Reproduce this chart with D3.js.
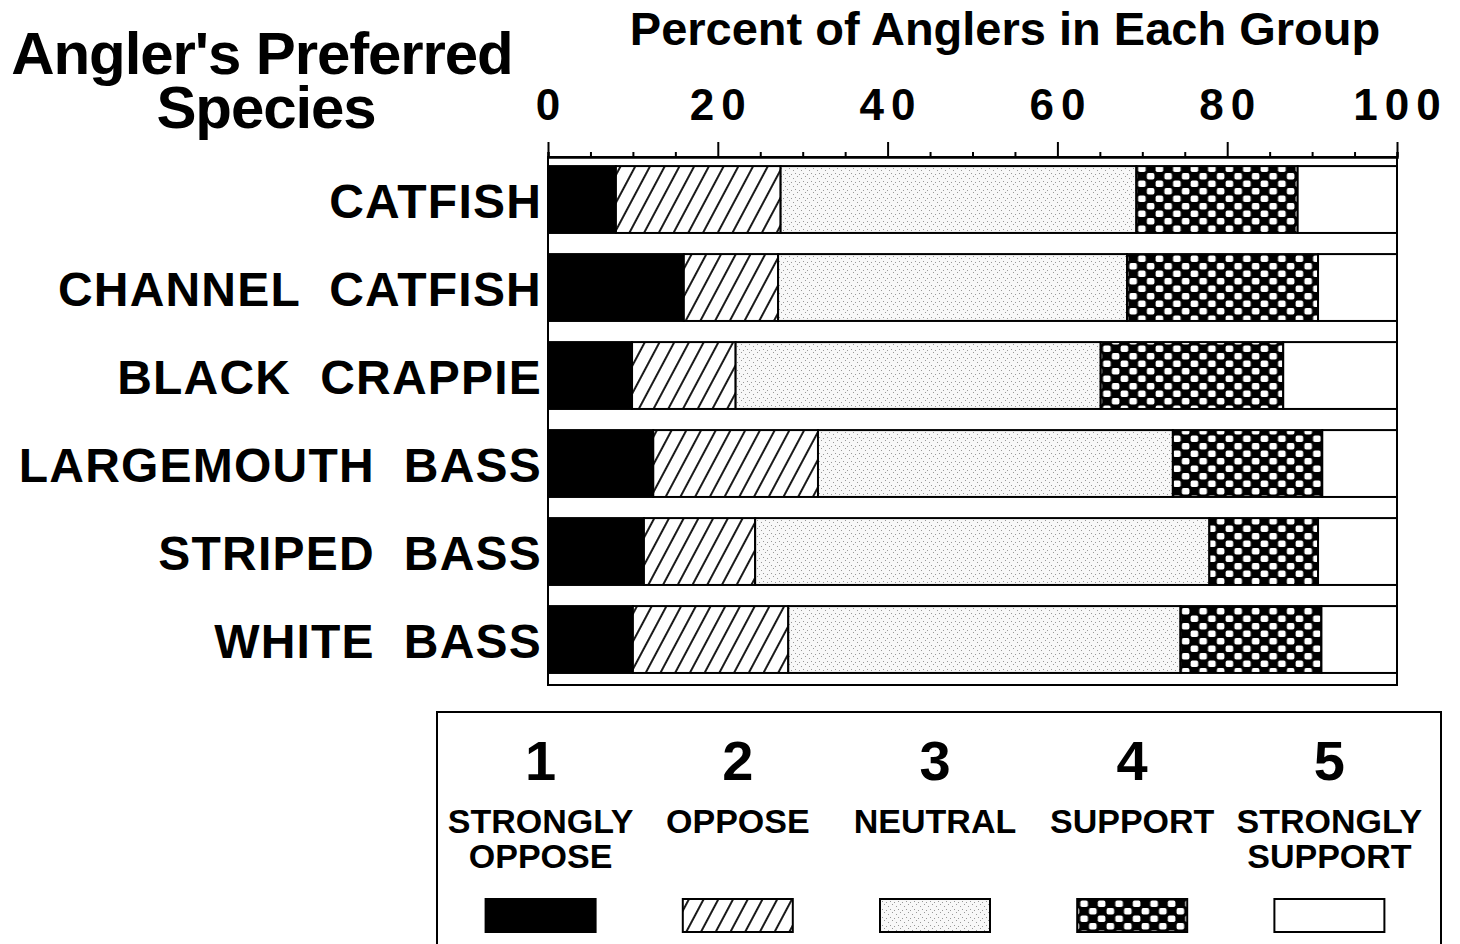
<!DOCTYPE html>
<html>
<head>
<meta charset="utf-8">
<script src="https://cdn.jsdelivr.net/npm/d3@7"></script>
<style>
  body { margin: 0; background: #fff; }
  text { font-family: "Liberation Sans", Arial, Helvetica, sans-serif; font-weight: bold; fill: #000; }
</style>
</head>
<body>
<script>
// data
var species = ["CATFISH", "CHANNEL  CATFISH", "BLACK  CRAPPIE", "LARGEMOUTH  BASS", "STRIPED  BASS", "WHITE  BASS"];
var levels = ["1", "2", "3", "4", "5"];
var levelNames = [["STRONGLY", "OPPOSE"], ["OPPOSE"], ["NEUTRAL"], ["SUPPORT"], ["STRONGLY", "SUPPORT"]];
var stronglyOppose  = [8.0, 16.0, 9.9, 12.4, 11.3, 10.0];
var oppose          = [19.4, 11.1, 12.2, 19.4, 13.1, 18.3];
var neutral         = [41.9, 41.1, 43.0, 41.8, 53.5, 46.2];
var support         = [19.0, 22.5, 21.5, 17.6, 12.8, 16.6];
var stronglySupport = [11.7, 9.3, 13.4, 8.8, 9.3, 8.9];
var xTicks = [0, 20, 40, 60, 80, 100];

var keys = ["so", "o", "n", "s", "ss"];
var rows = species.map(function(d, i) {
  return { species: d, so: stronglyOppose[i], o: oppose[i], n: neutral[i], s: support[i], ss: stronglySupport[i] };
});

var width = 1460, height = 944;
var svg = d3.select("body").append("svg")
  .attr("width", width)
  .attr("height", height);

// patterns
var defs = svg.append("defs");

var hatch = defs.append("pattern")
  .attr("id", "hatch")
  .attr("patternUnits", "userSpaceOnUse")
  .attr("width", 13).attr("height", 13)
  .attr("patternTransform", "rotate(28)");
hatch.append("rect").attr("width", 13).attr("height", 13).attr("fill", "#fff");
hatch.append("line")
  .attr("x1", 2).attr("y1", 0).attr("x2", 2).attr("y2", 13)
  .attr("stroke", "#000").attr("stroke-width", 1.8);

var dots = defs.append("pattern")
  .attr("id", "dots")
  .attr("patternUnits", "userSpaceOnUse")
  .attr("width", 8).attr("height", 8);
dots.append("rect").attr("width", 8).attr("height", 8).attr("fill", "#f8f8f8");
[[1, 2], [5, 0], [3, 5], [7, 6]].forEach(function(p) {
  dots.append("rect").attr("x", p[0]).attr("y", p[1])
    .attr("width", 1).attr("height", 1).attr("fill", "#999");
});

var checker = defs.append("pattern")
  .attr("id", "checker")
  .attr("patternUnits", "userSpaceOnUse")
  .attr("width", 17.5).attr("height", 15);
checker.append("rect").attr("width", 17.5).attr("height", 15).attr("fill", "#000");
[[0.6, 0.6], [9.35, 8.1]].forEach(function(p) {
  checker.append("rect").attr("x", p[0]).attr("y", p[1])
    .attr("width", 7.6).attr("height", 6.4).attr("rx", 1.8)
    .attr("fill", "#fff");
});

var fills = { so: "#000", o: "url(#hatch)", n: "url(#dots)", s: "url(#checker)", ss: "#fff" };

// scales
var x = d3.scaleLinear().domain([0, 100]).range([548, 1397]);
var y = d3.scaleBand().domain(species).range([157, 685])
  .paddingInner(0.24).paddingOuter(0.12).align(0.43);

// titles (two-line title kept in one text element)
var title = svg.append("text")
  .attr("text-anchor", "middle")
  .style("font-size", "60px").style("letter-spacing", "-1.1px");
title.append("tspan").attr("x", 262).attr("y", 74).text("Angler's Preferred");
title.append("tspan").attr("x", 266).attr("y", 128).text("Species");

svg.append("text")
  .attr("x", 1005).attr("y", 45)
  .attr("text-anchor", "middle")
  .style("font-size", "47px")
  .text("Percent of Anglers in Each Group");

// plot frame
svg.append("rect")
  .attr("x", x(0)).attr("y", 157)
  .attr("width", x(100) - x(0)).attr("height", 685 - 157)
  .attr("fill", "none").attr("stroke", "#000").attr("stroke-width", 2);

// top axis
var axis = svg.append("g").attr("transform", "translate(0,157)")
  .call(d3.axisTop(x).tickValues(d3.range(0, 101, 5)).tickSize(5).tickFormat(""));
axis.select(".domain").attr("stroke-width", 2.5);
axis.selectAll(".tick line").attr("stroke-width", 2)
  .attr("y2", function(d) { return d % 20 === 0 ? -15 : -5; });

svg.selectAll(".xlab")
  .data(xTicks)
  .enter().append("text")
  .attr("class", "xlab")
  .attr("x", function(d) { return x(d) + 3.5; })
  .attr("y", 120)
  .attr("text-anchor", "middle")
  .style("font-size", "44px")
  .style("letter-spacing", "7px")
  .text(function(d) { return d; });

// bars
var stacked = d3.stack().keys(keys)(rows);
svg.append("g").selectAll("g")
  .data(stacked)
  .enter().append("g")
  .attr("fill", function(d) { return fills[d.key]; })
  .selectAll("rect")
  .data(function(d) { return d; })
  .enter().append("rect")
  .attr("x", function(d) { return x(d[0]); })
  .attr("y", function(d) { return y(d.data.species); })
  .attr("width", function(d) { return x(d[1]) - x(d[0]); })
  .attr("height", y.bandwidth())
  .attr("stroke", "#000")
  .attr("stroke-width", 2);

// category labels
svg.selectAll(".ylab")
  .data(species)
  .enter().append("text")
  .attr("class", "ylab")
  .attr("x", 542)
  .attr("y", function(d) { return y(d) + y.bandwidth() / 2 + 18; })
  .attr("text-anchor", "end")
  .style("font-size", "48px")
  .style("letter-spacing", "1.2px")
  .style("white-space", "pre")
  .text(function(d) { return d; });

// legend
svg.append("rect")
  .attr("x", 437).attr("y", 712)
  .attr("width", 1004).attr("height", 240)
  .attr("fill", "none").attr("stroke", "#000").attr("stroke-width", 2);

var lx = d3.scaleBand().domain(levels).range([442, 1428]);
var item = svg.selectAll(".leg")
  .data(levels)
  .enter().append("g")
  .attr("class", "leg")
  .attr("transform", function(d) { return "translate(" + (lx(d) + lx.bandwidth() / 2) + ",0)"; });

item.append("text")
  .attr("y", 780)
  .attr("text-anchor", "middle")
  .style("font-size", "56px")
  .text(function(d) { return d; });

item.each(function(d, i) {
  var g = d3.select(this);
  levelNames[i].forEach(function(line, j) {
    g.append("text")
      .attr("y", 833 + j * 35)
      .attr("text-anchor", "middle")
      .style("font-size", "34px")
      .text(line);
  });
});

item.append("rect")
  .attr("x", -55).attr("y", 899)
  .attr("width", 110).attr("height", 33)
  .attr("fill", function(d, i) { return fills[keys[i]]; })
  .attr("stroke", "#000")
  .attr("stroke-width", 2);
</script>
</body>
</html>
